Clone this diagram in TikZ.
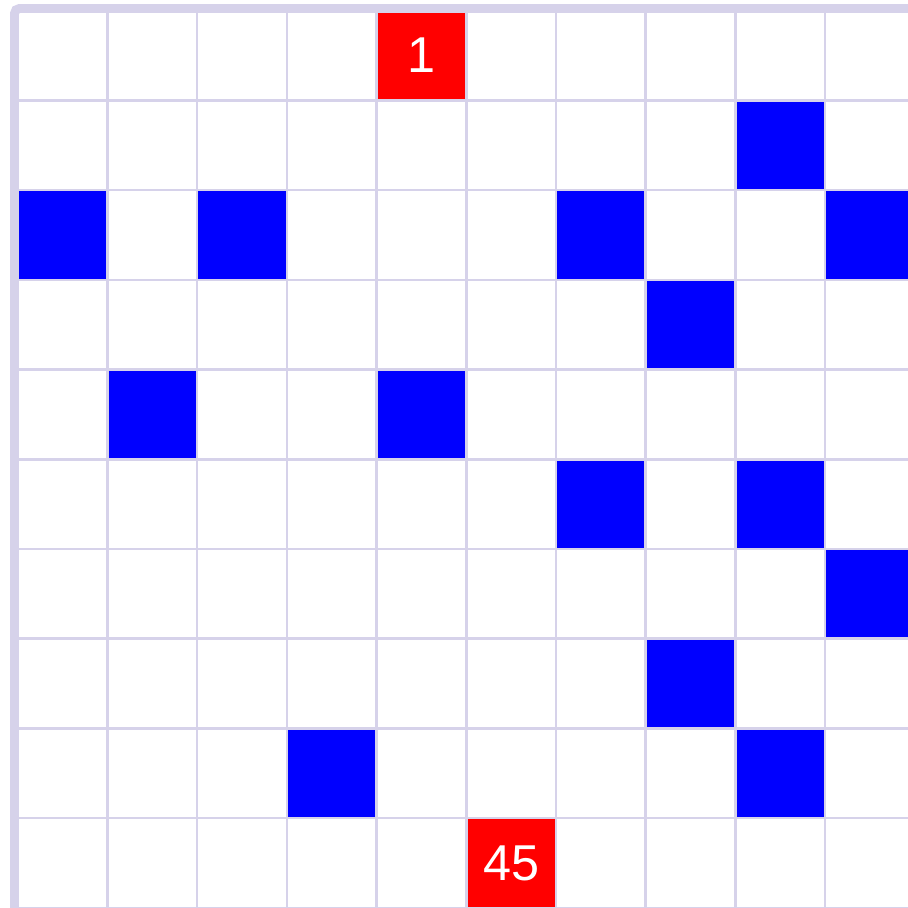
\documentclass[tikz,border=0pt]{standalone}
\usepackage{fontspec}
\setmainfont{Liberation Sans}
\usetikzlibrary{positioning}
\definecolor{gridline}{RGB}{214,210,234}
\definecolor{wallblue}{RGB}{0,0,255}
\definecolor{markred}{RGB}{255,0,0}

\begin{document}
\begin{tikzpicture}[
  x=2.691cm,
  y=-2.691cm,
  wall/.style={
    fill=wallblue
  },
  marker/.style={
    fill=markred,
    text=white,
    minimum size=2.691cm,
    inner sep=0pt,
    font=\fontsize{43}{50}\selectfont
  },
  gridrule/.style={draw=gridline,line width=2.2pt},
  frame/.style={draw=gridline,line width=7.6pt,rounded corners=1.5mm}
]
  % Picture frame, cut on the right and bottom as in the reference.
  \useasboundingbox (-0.1984,-0.1204) rectangle (9.924,9.991);
  \clip (-0.1984,-0.1204) rectangle (9.924,9.991);

  % Blocked cells (column/row).
  \foreach \c/\r in {8/1, 0/2, 2/2, 6/2, 9/2, 7/3, 1/4, 4/4, 6/5, 8/5,
                     9/6, 7/7, 3/8, 8/8}
    \fill[wall] (\c,\r) rectangle ++(1,1);

  % Start and goal cells.
  \node[marker] (start) at (4.5,0.5) {1};
  \node[marker] (goal) at (5.5,9.5) {45};

  % Grid lines.
  \foreach \i in {0,...,11} {
    \draw[gridrule] (\i,0) -- (\i,11);
    \draw[gridrule] (0,\i) -- (11,\i);
  }

  % Outer border on the left and top.
  \draw[frame] (-0.037,11) -- (-0.037,-0.026) -- (11,-0.026);
\end{tikzpicture}
\end{document}
